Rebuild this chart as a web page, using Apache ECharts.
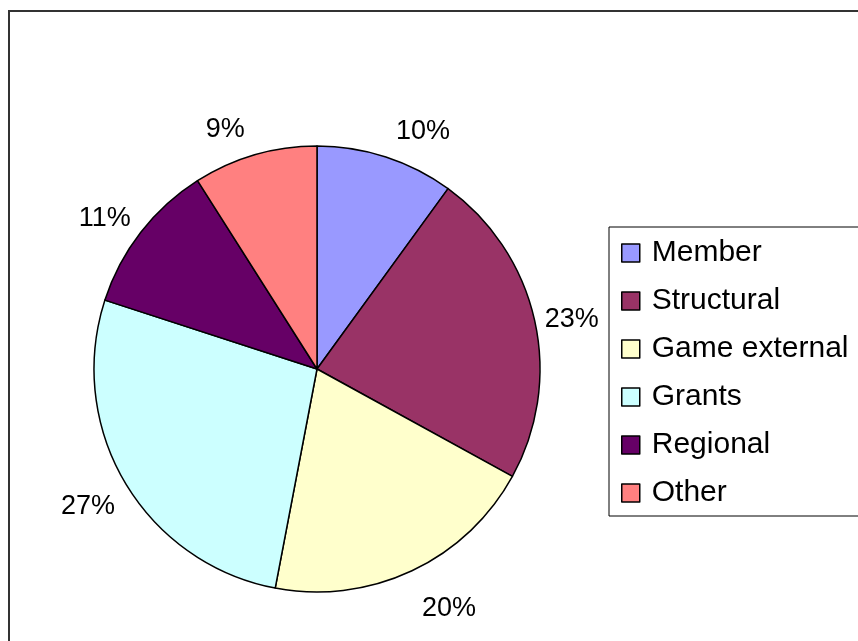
<!DOCTYPE html>
<html>
<head>
<meta charset="utf-8">
<script src="https://cdn.jsdelivr.net/npm/echarts@6/dist/echarts.min.js"></script>
<style>
  html, body { margin: 0; padding: 0; background: #fff; }
  #chart { width: 858px; height: 641px; }
</style>
</head>
<body>
<div id="chart"></div>
<script>
// Income share by source, percent
const categories = ['Member', 'Structural', 'Game external', 'Grants', 'Regional', 'Other'];
const shares = [10, 23, 20, 27, 11, 9];
const colors = ['#9999FF', '#993366', '#FFFFCC', '#CCFFFF', '#660066', '#FF8080'];

const CENTER = [317, 369];
const RADIUS = 223;
const FONT = "'Liberation Sans', Arial, sans-serif";

const total = shares.reduce((a, b) => a + b, 0);
// mid-angle of each slice, measured clockwise from 12 o'clock
const midAngles = [];
let acc = 0;
shares.forEach(v => {
  midAngles.push((acc + v / 2) / total * 2 * Math.PI);
  acc += v;
});

const chart = echarts.init(document.getElementById('chart'), null, { renderer: 'canvas' });

chart.setOption({
  backgroundColor: '#fff',
  animation: false,
  graphic: [{
    type: 'rect',
    shape: { x: 9, y: 11, width: 1000, height: 1000 },
    style: { fill: 'none', stroke: '#333', lineWidth: 2 },
    silent: true
  }],
  legend: {
    orient: 'vertical',
    left: 609,
    top: 227,
    padding: [11, 40, 8, 12],
    borderColor: '#000',
    borderWidth: 1,
    itemWidth: 18,
    itemHeight: 18,
    itemGap: 18,
    icon: 'rect',
    itemStyle: { borderColor: '#000', borderWidth: 1.5 },
    textStyle: { fontFamily: FONT, fontSize: 30, lineHeight: 30, color: '#000', padding: [0, 0, 0, 7] },
    data: categories
  },
  series: [{
    type: 'pie',
    center: CENTER,
    radius: RADIUS,
    startAngle: 90,
    clockwise: true,
    avoidLabelOverlap: false,
    itemStyle: { borderColor: '#000', borderWidth: 1.5 },
    label: {
      show: true,
      position: 'outside',
      formatter: p => p.value + '%',
      fontFamily: FONT,
      fontSize: 27,
      color: '#000'
    },
    labelLine: { show: false },
    labelLayout: function (params) {
      const a = midAngles[params.dataIndex];
      const dx = Math.sin(a), dy = -Math.cos(a);
      const ex = CENTER[0] + dx * RADIUS, ey = CENTER[1] + dy * RADIUS;
      const w = params.labelRect.width;
      return {
        x: ex + Math.sign(dx) * (w / 2 + 10),
        y: ey + dy * 34 + 7,
        align: 'center',
        verticalAlign: 'middle'
      };
    },
    data: categories.map((name, i) => ({
      name,
      value: shares[i],
      itemStyle: { color: colors[i] }
    }))
  }]
});
</script>
</body>
</html>
